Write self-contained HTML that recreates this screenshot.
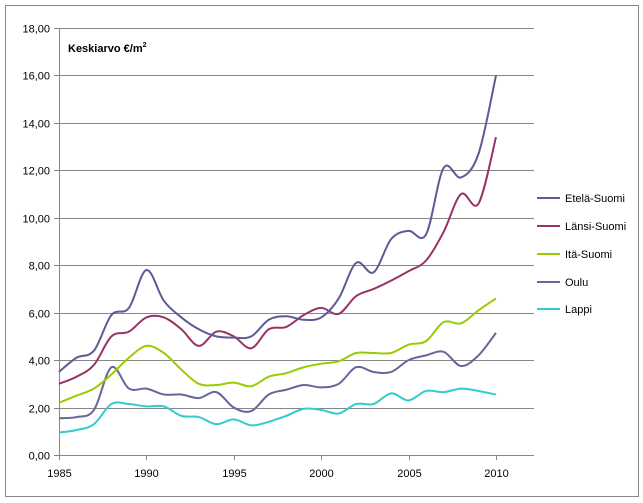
<!DOCTYPE html><html><head><meta charset="utf-8"><style>
body{margin:0;background:#fff}
svg{display:block;font-family:"Liberation Sans",sans-serif}
</style></head><body>
<svg id="s" width="643" height="503" xmlns="http://www.w3.org/2000/svg">
<rect x="5.5" y="5.5" width="633" height="491" fill="#fff" stroke="#888"/>
<g id="grid" stroke="#868686" stroke-width="1"></g>
<g id="lab" font-size="11" fill="#000"></g>
<text x="68" y="52" font-size="11" font-weight="bold">Keskiarvo €/m<tspan dy="-5" font-size="7">2</tspan></text>
<g id="ser" fill="none" stroke-width="2"></g>
<g id="leg" font-size="11"></g>
</svg>
<script>
const NS="http://www.w3.org/2000/svg";
const X=y=>59+17.48*(y-1985), Y=v=>455-23.72*v;
function el(t,a,p,txt){const e=document.createElementNS(NS,t);for(const k in a)e.setAttribute(k,a[k]);if(txt!=null)e.textContent=txt;document.getElementById(p).appendChild(e);}
for(let v=0;v<=18;v+=2){const y=Math.round(Y(v))+.5;el('line',{x1:54,x2:534,y1:y,y2:y},'grid');el('text',{x:50,y:y+4,'text-anchor':'end'},'lab',v.toFixed(2).replace('.',','));}
el('line',{x1:59.5,x2:59.5,y1:Math.round(Y(18))+.5,y2:460},'grid');
for(let yr=1985;yr<=2010;yr+=5){const x=Math.round(X(yr))+.5;el('line',{x1:x,x2:x,y1:455,y2:460},'grid');el('text',{x:x,y:477,'text-anchor':'middle'},'lab',yr);}
const S=[
["Etelä-Suomi","#5F5A96",[3.5,4.1,4.4,5.9,6.2,7.8,6.5,5.8,5.3,5.0,4.95,5.0,5.7,5.85,5.7,5.8,6.6,8.1,7.7,9.1,9.45,9.3,12.1,11.7,12.7,16.0]],
["Länsi-Suomi","#993366",[3.0,3.3,3.8,5.0,5.2,5.8,5.8,5.3,4.6,5.2,5.0,4.5,5.3,5.4,5.9,6.2,5.95,6.7,7.0,7.35,7.75,8.2,9.4,11.0,10.6,13.4]],
["Itä-Suomi","#99CC00",[2.2,2.5,2.8,3.4,4.1,4.6,4.3,3.6,3.0,2.95,3.05,2.9,3.3,3.45,3.7,3.85,3.95,4.3,4.3,4.3,4.65,4.8,5.6,5.55,6.1,6.6]],
["Oulu","#666699",[1.55,1.6,1.9,3.7,2.8,2.8,2.55,2.55,2.4,2.65,2.0,1.85,2.55,2.75,2.95,2.85,3.0,3.7,3.5,3.5,4.0,4.2,4.35,3.75,4.2,5.15]],
["Lappi","#33CCCC",[0.95,1.05,1.3,2.15,2.15,2.05,2.05,1.65,1.6,1.3,1.5,1.25,1.4,1.65,1.95,1.9,1.75,2.15,2.15,2.6,2.3,2.7,2.65,2.8,2.7,2.55]]];
const LY=[198,226,254,282,309];
S.slice().reverse().forEach(s=>{
 const p=s[2].map((v,i)=>[X(1985+i),Y(v)]);
 let d="M"+p[0][0]+","+p[0][1];
 for(let i=0;i<p.length-1;i++){const p0=p[Math.max(0,i-1)],p1=p[i],p2=p[i+1],p3=p[Math.min(p.length-1,i+2)];
  const c1=[p1[0]+(p2[0]-p0[0])/6,p1[1]+(p2[1]-p0[1])/6],c2=[p2[0]-(p3[0]-p1[0])/6,p2[1]-(p3[1]-p1[1])/6];
  d+=` C${c1[0]},${c1[1]} ${c2[0]},${c2[1]} ${p2[0]},${p2[1]}`;}
 el('path',{d:d,stroke:s[1]},'ser');
});
S.forEach((s,i)=>{el('line',{x1:537,x2:560,y1:LY[i],y2:LY[i],stroke:s[1],'stroke-width':2},'leg');el('text',{x:565,y:LY[i]+4},'leg',s[0]);});
</script>
</body></html>
